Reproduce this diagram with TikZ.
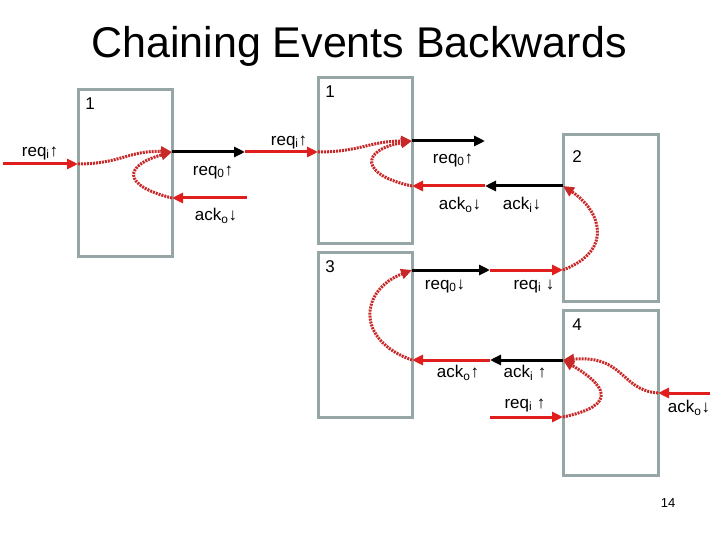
\documentclass[tikz,border=0pt]{standalone}
\usepackage{fontspec}
\setmainfont{Liberation Sans}
\usetikzlibrary{arrows.meta}
\definecolor{boxg}{RGB}{150,165,165}
\definecolor{rd}{RGB}{225,30,30}
\definecolor{drd}{RGB}{200,40,40}
\newcommand{\sbs}[1]{\textsubscript{#1}}
\begin{document}
\begin{tikzpicture}[x=1pt,y=-1pt,
  blk/.style={draw=boxg,line width=3pt},
  sig/.style={line width=3pt,-{Triangle[length=11pt,width=10pt]}},
  redsig/.style={sig,rd},
  blksig/.style={sig,black},
  causal/.style={drd,line width=3pt,dash pattern=on 2pt off 1pt,-{Triangle[length=11pt,width=10pt]}},
  lbl/.style={font=\fontsize{17}{19}\selectfont,inner sep=0pt},
  num/.style={font=\fontsize{17}{19}\selectfont,inner sep=0pt}]
\useasboundingbox (0,0) rectangle (720,540);
\node[font=\fontsize{43}{48}\selectfont] (title) at (359,46) {Chaining Events Backwards};
% boxes
\draw[blk] (78,90) rectangle (172,256);
\draw[blk] (318,78) rectangle (412,243);
\draw[blk] (318,252) rectangle (412,417);
\draw[blk] (563,135) rectangle (658,301);
\draw[blk] (563,310) rectangle (658,475);
\node[num] (n1) at (90,104) {1};
\node[num] (n2) at (330,92) {1};
\node[num] (n3) at (577,157) {2};
\node[num] (n4) at (330,267) {3};
\node[num] (n5) at (577,325) {4};
% coordinates
\coordinate (a0) at (3,164); \coordinate (a1) at (78,164);
\coordinate (a2) at (172,152); \coordinate (a3) at (245,152); \coordinate (a4) at (318,152);
\coordinate (a5) at (247,198); \coordinate (a6) at (172,198);
\coordinate (b1) at (412,141); \coordinate (b2) at (485,141);
\coordinate (b3) at (563,186); \coordinate (b4) at (485,186); \coordinate (b5) at (412,186);
\coordinate (c1) at (412,270); \coordinate (c2) at (490,270); \coordinate (c3) at (563,270);
\coordinate (d1) at (563,360); \coordinate (d2) at (490,360); \coordinate (d3) at (412,360);
\coordinate (e1) at (490,417); \coordinate (e2) at (563,417);
\coordinate (f1) at (710,393); \coordinate (f2) at (658,393);
% signals
\draw[redsig] (a0) -- (a1);
\draw[blksig] (a2) -- (a3);
\draw[redsig] (a3) -- (a4);
\draw[redsig] (a5) -- (a6);
\draw[blksig] (b1) -- (b2);
\draw[blksig] (b3) -- (b4);
\draw[redsig] (b4) -- (b5);
\draw[blksig] (c1) -- (c2);
\draw[redsig] (c2) -- (c3);
\draw[blksig] (d1) -- (d2);
\draw[redsig] (d2) -- (d3);
\draw[redsig] (e1) -- (e2);
\draw[redsig] (f1) -- (f2);
% causality
\draw[causal] (a1) .. controls (120,164) and (130,150) .. (a2);
\draw[causal] (a6) .. controls (120,185) and (125,165) .. (a2);
\draw[causal] (a4) .. controls (360,152) and (370,141) .. (b1);
\draw[causal] (b5) .. controls (360,175) and (360,150) .. (b1);
\draw[causal] (c3) .. controls (615,250) and (600,210) .. (b3);
\draw[causal] (d3) .. controls (355,340) and (360,290) .. (c1);
\draw[causal] (e2) .. controls (620,405) and (605,385) .. (d1);
\draw[causal] (f2) .. controls (620,390) and (625,355) .. (d1);
% labels
\node[lbl] (l1) at (40,153) {req\sbs{i}↑};
\node[lbl] (l2) at (289,142) {req\sbs{i}↑};
\node[lbl] (l3) at (213,172) {req\sbs{0}↑};
\node[lbl] (l4) at (216,216) {ack\sbs{o}↓};
\node[lbl] (l5) at (453,160) {req\sbs{0}↑};
\node[lbl] (l6) at (460,205) {ack\sbs{o}↓};
\node[lbl] (l7) at (522,205) {ack\sbs{i}↓};
\node[lbl] (l8) at (445,286) {req\sbs{0}↓};
\node[lbl] (l9) at (534,286) {req\sbs{i} ↓};
\node[lbl] (l10) at (458,373) {ack\sbs{o}↑};
\node[lbl] (l11) at (525,373) {ack\sbs{i} ↑};
\node[lbl] (l12) at (525,405) {req\sbs{i} ↑};
\node[lbl] (l13) at (689,408) {ack\sbs{o}↓};
\node[font=\fontsize{13}{15}\selectfont] (pg) at (668,503) {14};
\end{tikzpicture}
\end{document}
